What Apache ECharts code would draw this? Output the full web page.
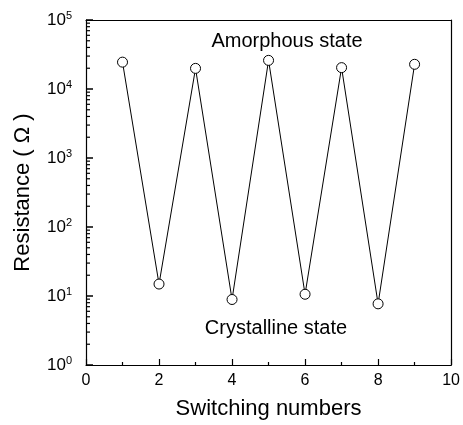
<!DOCTYPE html>
<html><head><meta charset="utf-8">
<script src="https://cdn.jsdelivr.net/npm/echarts@6/dist/echarts.min.js"></script>
<style>html,body{margin:0;padding:0;background:#fff}#c{width:463px;height:425px}</style>
</head><body><div id="c"></div>
<script>
const switchingNumbers = [1, 2, 3, 4, 5, 6, 7, 8, 9];
const resistance = [24500, 14.9, 19900, 8.9, 26000, 10.6, 20400, 7.7, 22800];
const xTicks = [0, 2, 4, 6, 8, 10];
const yDecades = [1, 10, 100, 1000, 10000, 100000];
const minorMult = [2, 3, 4, 5, 6, 7, 8, 9];

const minorData = [];
for (let d = 0; d < yDecades.length - 1; d++) for (const m of minorMult) minorData.push([0, m * yDecades[d]]);

const font = 'Liberation Sans, Arial, sans-serif';
const chart = echarts.init(document.getElementById('c'));
chart.setOption({
  animation: false,
  grid: { left: 86, right: 9, top: 20, bottom: 60 },
  xAxis: [{
    type: 'value', min: 0, max: 10, interval: 2,
    name: 'Switching numbers', nameLocation: 'middle', nameGap: 33,
    nameTextStyle: { fontSize: 22, color: '#000', fontFamily: font },
    axisLine: { onZero: false, lineStyle: { color: '#000', width: 1.2 } },
    axisTick: { inside: true, length: 6, lineStyle: { color: '#000', width: 1.2 } },
    minorTick: { show: true, splitNumber: 2, length: 3, lineStyle: { color: '#000', width: 1.2 } },
    axisLabel: { fontSize: 16, color: '#000', fontFamily: font, margin: 8 },
    splitLine: { show: false }
  }, {
    type: 'value', min: 0, max: 10, position: 'top',
    axisLine: { show: true, onZero: false, lineStyle: { color: '#000', width: 1.2 } },
    axisTick: { show: false }, axisLabel: { show: false }, splitLine: { show: false }
  }],
  yAxis: [{
    type: 'log', logBase: 10, min: 1, max: 100000,
    name: 'Resistance ( Ω )', nameLocation: 'middle', nameGap: 52,
    nameTextStyle: { fontSize: 22, color: '#000', fontFamily: font },
    axisLine: { show: true, onZero: false, lineStyle: { color: '#000', width: 1.2 } },
    axisTick: { show: true, inside: true, length: 7, lineStyle: { color: '#000', width: 1.5 } },
    axisLabel: {
      margin: 14,
      formatter: v => '{b|10}{s|' + Math.round(Math.log10(v)) + '}',
      rich: {
        b: { fontSize: 17, color: '#000', fontFamily: font },
        s: { fontSize: 11, color: '#000', fontFamily: font, verticalAlign: 'top', padding: [0, 0, 9, 0] }
      }
    },
    splitLine: { show: false }
  }, {
    type: 'log', logBase: 10, min: 1, max: 100000, position: 'right',
    axisLine: { show: true, onZero: false, lineStyle: { color: '#000', width: 1.2 } },
    axisTick: { show: false }, axisLabel: { show: false }, splitLine: { show: false }
  }],
  series: [{
    type: 'line', data: switchingNumbers.map((x, i) => [x, resistance[i]]),
    symbol: 'circle', symbolSize: 10,
    lineStyle: { color: '#000', width: 1 },
    itemStyle: { color: '#fff', borderColor: '#000', borderWidth: 1 },
    z: 3
  }, {
    type: 'custom', data: minorData, clip: false, silent: true, z: 5,
    encode: { x: 0, y: 1 },
    renderItem: (params, api) => {
      const p = api.coord([api.value(0), api.value(1)]);
      return { type: 'line', shape: { x1: p[0], y1: p[1], x2: p[0] + 4, y2: p[1] }, style: { stroke: '#000', lineWidth: 1.2 } };
    }
  }],
  graphic: [
    { type: 'text', x: 287, y: 41, style: { text: 'Amorphous state', font: '20px ' + font, fill: '#000', textAlign: 'center', textVerticalAlign: 'middle' } },
    { type: 'text', x: 276, y: 328, style: { text: 'Crystalline state', font: '20px ' + font, fill: '#000', textAlign: 'center', textVerticalAlign: 'middle' } }
  ]
});
</script></body></html>
